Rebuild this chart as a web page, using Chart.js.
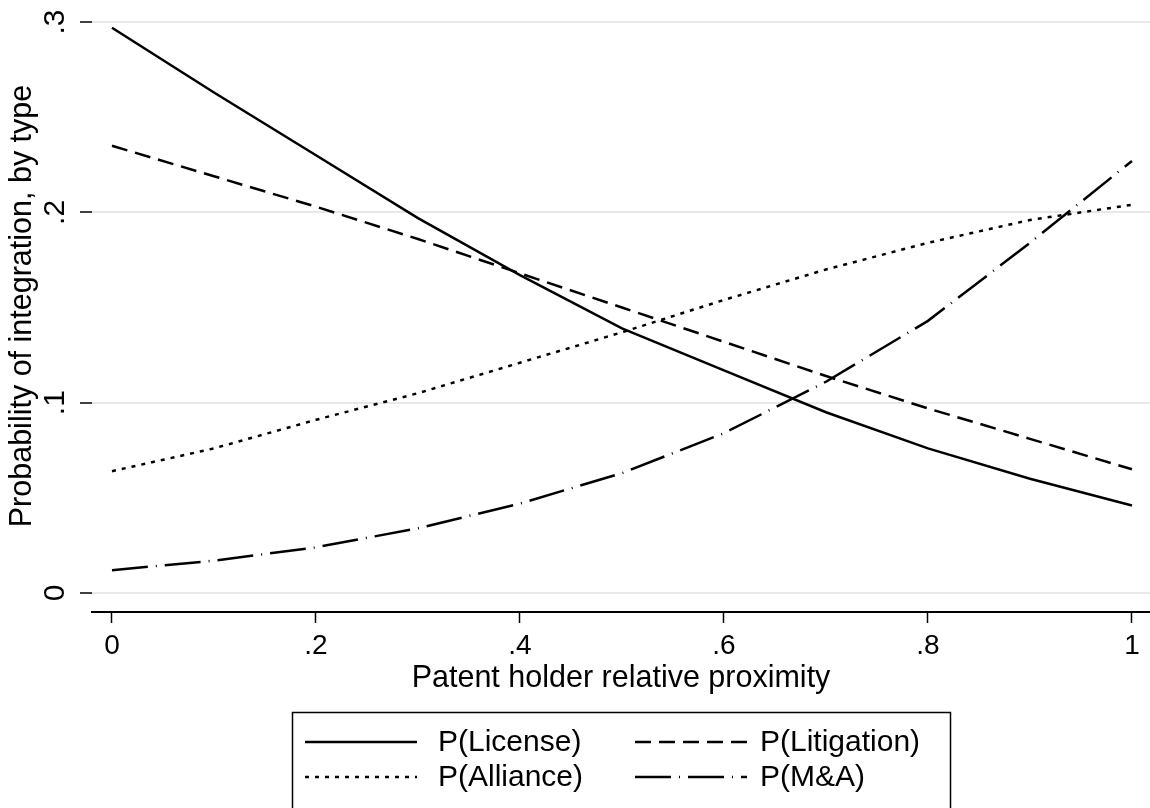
<!DOCTYPE html>
<html>
<head>
<meta charset="utf-8">
<script src="https://cdn.jsdelivr.net/npm/chart.js@4/dist/chart.umd.min.js"></script>
<style>
  html, body { margin: 0; padding: 0; background: #fff; }
  #myChart { display: block; }
</style>
</head>
<body>
<canvas id="myChart" width="1150" height="808"></canvas>
<script>
// patent holder relative proximity
var proximity = [0, 0.1, 0.2, 0.3, 0.4, 0.5, 0.6, 0.7, 0.8, 0.9, 1];

var pLicense    = [0.297, 0.263, 0.230, 0.197, 0.167, 0.139, 0.117, 0.095, 0.076, 0.060, 0.046];
var pLitigation = [0.235, 0.219, 0.203, 0.186, 0.168, 0.150, 0.132, 0.114, 0.097, 0.081, 0.065];
var pAlliance   = [0.064, 0.076, 0.091, 0.105, 0.121, 0.137, 0.154, 0.170, 0.184, 0.196, 0.204];
var pMA         = [0.012, 0.017, 0.024, 0.034, 0.047, 0.063, 0.084, 0.111, 0.143, 0.184, 0.227];

var xTickValues = [0, 0.2, 0.4, 0.6, 0.8, 1];
var xTickLabels = ['0', '.2', '.4', '.6', '.8', '1'];
var yTickValues = [0, 0.1, 0.2, 0.3];
var yTickLabels = ['0', '.1', '.2', '.3'];

var FONT = "'Liberation Sans', Arial, Helvetica, sans-serif";

function toPoints(values) {
    return values.map(function(v, i) {
        return { x: proximity[i], y: v };
    });
}

function fixedTicks(values) {
    return function(scale) {
        scale.ticks = values.map(function(v) { return { value: v }; });
    };
}

// Stata style boxed legend, two columns
var boxLegend = {
    id: 'boxLegend',
    afterDraw: function(chart) {
        var ctx = chart.ctx;
        var colLine = [305, 635];
        var colText = [438, 760];
        var rowY = [742, 777];
        ctx.save();
        ctx.strokeStyle = '#000';
        ctx.lineWidth = 1.5;
        ctx.setLineDash([]);
        ctx.strokeRect(292.5, 712.5, 658, 110);
        ctx.font = '30px ' + FONT;
        ctx.textBaseline = 'middle';
        ctx.fillStyle = '#000';
        chart.data.datasets.forEach(function(ds, i) {
            var c = i % 2;
            var r = Math.floor(i / 2);
            ctx.beginPath();
            ctx.lineWidth = 2.5;
            ctx.lineCap = 'butt';
            ctx.setLineDash(ds.borderDash || []);
            ctx.moveTo(colLine[c], rowY[r]);
            ctx.lineTo(colLine[c] + 112, rowY[r]);
            ctx.stroke();
            ctx.setLineDash([]);
            ctx.fillText(ds.label, colText[c], rowY[r] + 1);
        });
        ctx.restore();
    }
};

var ctx = document.getElementById('myChart').getContext('2d');
var chartData = {
    datasets: [
        {
            label: 'P(License)',
            data: toPoints(pLicense),
            borderColor: '#000',
            borderWidth: 2.5,
            borderDash: [],
            pointRadius: 0,
            fill: false,
            tension: 0
        },
        {
            label: 'P(Litigation)',
            data: toPoints(pLitigation),
            borderColor: '#000',
            borderWidth: 2.5,
            borderDash: [16, 8],
            pointRadius: 0,
            fill: false,
            tension: 0
        },
        {
            label: 'P(Alliance)',
            data: toPoints(pAlliance),
            borderColor: '#000',
            borderWidth: 2.5,
            borderDash: [4, 6],
            pointRadius: 0,
            fill: false,
            tension: 0
        },
        {
            label: 'P(M&A)',
            data: toPoints(pMA),
            borderColor: '#000',
            borderWidth: 2.5,
            borderDash: [36, 8, 1, 8],
            pointRadius: 0,
            fill: false,
            tension: 0
        }
    ]
};

var myChart = new Chart(ctx, {
    type: 'line',
    data: chartData,
    plugins: [boxLegend],
    options: {
        responsive: false,
        animation: false,
        devicePixelRatio: 1,
        layout: { padding: { left: 0, right: 0, top: 0, bottom: 107 } },
        plugins: {
            legend: { display: false },
            tooltip: { enabled: false }
        },
        scales: {
            x: {
                type: 'linear',
                min: -0.0196,
                max: 1.0177,
                afterBuildTicks: fixedTicks(xTickValues),
                afterFit: function(scale) {
                    scale.height = 89;
                    scale.paddingLeft = 0;
                    scale.paddingRight = 0;
                },
                border: { display: true, color: '#000', width: 2 },
                grid: { drawOnChartArea: false, drawTicks: true, tickLength: 11, tickColor: '#000', tickWidth: 1.5 },
                ticks: {
                    color: '#000',
                    padding: 6,
                    maxRotation: 0,
                    font: { family: FONT, size: 28 },
                    callback: function(value, index) { return xTickLabels[index]; }
                },
                title: {
                    display: true,
                    text: 'Patent holder relative proximity',
                    color: '#000',
                    font: { family: FONT, size: 30.5 },
                    padding: { top: 4, bottom: 4 }
                }
            },
            y: {
                type: 'linear',
                min: -0.00998,
                max: 0.3116,
                afterBuildTicks: fixedTicks(yTickValues),
                afterFit: function(scale) {
                    scale.width = 92;
                    scale.paddingTop = 0;
                    scale.paddingBottom = 0;
                },
                border: { display: false },
                grid: { color: '#e8e8e8', lineWidth: 2, drawTicks: true, tickLength: 12, tickColor: '#000', tickWidth: 1.5 },
                ticks: {
                    color: '#000',
                    padding: 12,
                    minRotation: 90,
                    maxRotation: 90,
                    crossAlign: 'center',
                    font: { family: FONT, size: 30 },
                    callback: function(value, index) { return yTickLabels[index]; }
                },
                title: {
                    display: true,
                    text: 'Probability of integration, by type',
                    color: '#000',
                    font: { family: FONT, size: 30.5 },
                    padding: { top: 4, bottom: 4 }
                }
            }
        }
    }
});
</script>
</body>
</html>
